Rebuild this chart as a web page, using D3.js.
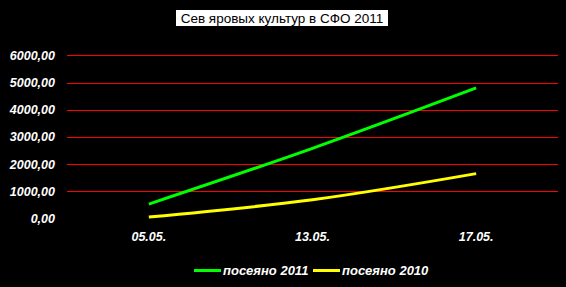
<!DOCTYPE html>
<html>
<head>
<meta charset="utf-8">
<script src="https://cdn.jsdelivr.net/npm/d3@7"></script>
<style>
  body { margin: 0; background: #000; }
  svg { display: block; }
</style>
</head>
<body>
<div id="main"></div>
<script>
const title = 'Сев яровых культур в СФО 2011';
const dates = ['05.05.', '13.05.', '17.05.'];
const sown2011 = [530, 2580, 4800];
const sown2010 = [55, 690, 1650];
const yTicks = [0, 1000, 2000, 3000, 4000, 5000, 6000];
const seriesNames = ['посеяно 2011', 'посеяно 2010'];

const w = 566;
const h = 287;
const colors = ['#00ff00', '#ffff00'];
const font = '"Liberation Sans", Arial, sans-serif';

const svg = d3.select('#main')
    .append('svg')
    .attr('width', w)
    .attr('height', h)
    .style('background', '#000');

const x = d3.scaleBand()
    .domain(dates)
    .range([67, 558]);

const y = d3.scaleLinear()
    .domain([0, 6000])
    .range([218.5, 55.3]);

// title in a white box
svg.append('rect')
    .attr('x', 176)
    .attr('y', 10)
    .attr('width', 212)
    .attr('height', 16)
    .attr('fill', '#fff');
const titleText = svg.append('text')
    .attr('x', w / 2 - 1)
    .attr('y', 23)
    .attr('text-anchor', 'middle')
    .attr('font-family', font)
    .attr('font-size', '13.5px')
    .attr('fill', '#000')
    .text(title);
const tb = titleText.node().getBBox();
titleText.attr('textLength', Math.min(tb.width, 206)).attr('lengthAdjust', 'spacingAndGlyphs');

// gridlines
svg.append('g')
    .selectAll('line')
    .data(yTicks.filter(d => d > 0))
    .enter()
    .append('line')
    .attr('x1', 67)
    .attr('x2', 558)
    .attr('y1', d => Math.round(y(d)) + 0.5)
    .attr('y2', d => Math.round(y(d)) + 0.5)
    .attr('stroke', '#ff0000')
    .attr('stroke-width', 1)
    .attr('shape-rendering', 'crispEdges');

// y labels
svg.append('g')
    .selectAll('text')
    .data(yTicks)
    .enter()
    .append('text')
    .attr('x', 55)
    .attr('y', d => y(d) + 4.5)
    .attr('text-anchor', 'end')
    .attr('font-family', font)
    .attr('font-size', '12.5px')
    .attr('font-weight', 'bold')
    .attr('font-style', 'italic')
    .attr('fill', '#fff')
    .text(d => d3.format('.2f')(d).replace('.', ','));

// x labels
svg.append('g')
    .selectAll('text')
    .data(dates)
    .enter()
    .append('text')
    .attr('x', d => x(d) + x.bandwidth() / 2)
    .attr('y', 241)
    .attr('text-anchor', 'middle')
    .attr('font-family', font)
    .attr('font-size', '12.5px')
    .attr('font-weight', 'bold')
    .attr('font-style', 'italic')
    .attr('fill', '#fff')
    .text(d => d);

const line = d3.line()
    .x((d, i) => x(dates[i]) + x.bandwidth() / 2)
    .y(d => y(d))
    .curve(d3.curveCatmullRom);

[sown2011, sown2010].forEach((s, i) => {
    svg.append('path')
        .datum(s)
        .attr('d', line)
        .attr('fill', 'none')
        .attr('stroke', colors[i])
        .attr('stroke-width', 3);
});

// legend
const legendX = [194, 313];
const legend = svg.append('g');
seriesNames.forEach((name, i) => {
    legend.append('line')
        .attr('x1', legendX[i])
        .attr('x2', legendX[i] + 27)
        .attr('y1', 270.5)
        .attr('y2', 270.5)
        .attr('stroke', colors[i])
        .attr('stroke-width', 3);
    legend.append('text')
        .attr('x', legendX[i] + 29)
        .attr('y', 275)
        .attr('font-family', font)
        .attr('font-size', '13px')
        .attr('font-weight', 'bold')
        .attr('font-style', 'italic')
        .attr('fill', '#fff')
        .text(name);
});
</script>
</body>
</html>
